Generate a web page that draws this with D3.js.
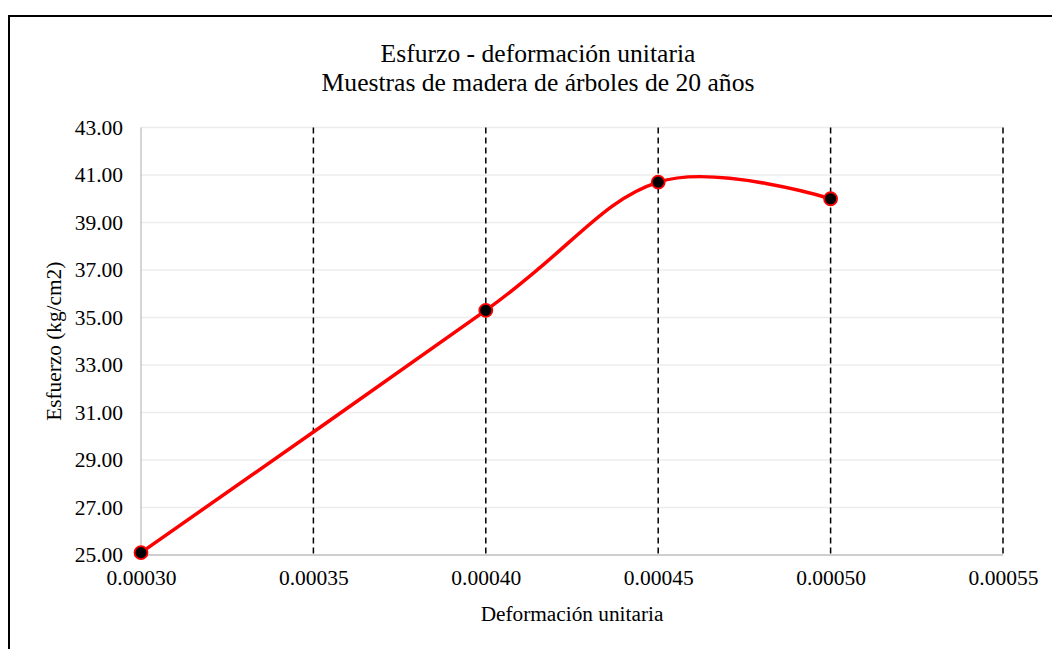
<!DOCTYPE html>
<html>
<head>
<meta charset="utf-8">
<script src="https://cdn.jsdelivr.net/npm/d3@7/dist/d3.min.js"></script>
<style>
  html, body { margin: 0; padding: 0; background: #fff; }
  svg { display: block; }
  svg text { font-family: "Liberation Serif", "Times New Roman", serif; }
</style>
</head>
<body>
<svg id="chart" width="1052" height="649"></svg>
<script>
// Stress vs. unit strain, wood samples from 20-year-old trees
const strain = [0.00030, 0.00040, 0.00045, 0.00050];
const stress = [25.1, 35.3, 40.7, 40.0];
const xTicks = [0.00030, 0.00035, 0.00040, 0.00045, 0.00050, 0.00055];
const yTicks = [25, 27, 29, 31, 33, 35, 37, 39, 41, 43];
const titleLines = ["Esfurzo - deformación unitaria", "Muestras de madera de árboles de 20 años"];
const xTitle = "Deformación unitaria";
const yTitle = "Esfuerzo (kg/cm2)";

const FONT = "'Liberation Serif', 'Times New Roman', serif";
const svg = d3.select("#chart");
const W = 1052, H = 649;
const plot = { left: 141, right: 1003, top: 127.5, bottom: 555 };

// Chart frame
svg.append("rect")
  .attr("x", 9).attr("y", 16)
  .attr("width", W + 20).attr("height", H + 20)
  .attr("fill", "#fff").attr("stroke", "#000").attr("stroke-width", 2);

const x = d3.scaleLinear().domain([0.00030, 0.00055]).range([plot.left, plot.right]);
const y = d3.scaleLinear().domain([25, 43]).range([plot.bottom, plot.top]);

// Horizontal gridlines
svg.append("g")
  .selectAll("line").data(yTicks.filter(d => d !== 25)).join("line")
  .attr("x1", plot.left).attr("x2", plot.right)
  .attr("y1", d => y(d)).attr("y2", d => y(d))
  .attr("stroke", "#ececec").attr("stroke-width", 1.3);

// Vertical dashed gridlines
svg.append("g")
  .selectAll("line").data(xTicks.filter(d => d !== 0.00030)).join("line")
  .attr("x1", d => x(d)).attr("x2", d => x(d))
  .attr("y1", plot.top).attr("y2", plot.bottom)
  .attr("stroke", "#000").attr("stroke-width", 1.5)
  .attr("stroke-dasharray", "6,4");

// Axis lines
svg.append("line")
  .attr("x1", plot.left).attr("x2", plot.left)
  .attr("y1", plot.top).attr("y2", plot.bottom)
  .attr("stroke", "#bfbfbf").attr("stroke-width", 1.3);
svg.append("line")
  .attr("x1", plot.left).attr("x2", plot.right)
  .attr("y1", plot.bottom).attr("y2", plot.bottom)
  .attr("stroke", "#bfbfbf").attr("stroke-width", 1.3);

// Axis tick labels via d3 axes (lines hidden)
const yAxis = svg.append("g")
  .attr("transform", `translate(${plot.left},0)`)
  .call(d3.axisLeft(y).tickValues(yTicks).tickFormat(d3.format(".2f")).tickSize(0).tickPadding(18));
const xAxis = svg.append("g")
  .attr("transform", `translate(0,${plot.bottom})`)
  .call(d3.axisBottom(x).tickValues(xTicks).tickFormat(d3.format(".5f")).tickSize(0).tickPadding(15));
[yAxis, xAxis].forEach(g => {
  g.attr("font-family", FONT).attr("font-size", 21.5);
  g.select(".domain").remove();
  g.selectAll("text")
    .attr("font-family", FONT)
    .attr("font-size", 21.5).attr("fill", "#000");
});

// Titles
const title = svg.append("text")
  .attr("text-anchor", "middle").attr("font-family", FONT)
  .attr("font-size", 25.6).attr("fill", "#000");
titleLines.forEach((t, i) => {
  title.append("tspan").attr("x", 538).attr("y", 62 + i * 28.5).text(t);
});

svg.append("text")
  .attr("x", (plot.left + plot.right) / 2).attr("y", 621)
  .attr("text-anchor", "middle").attr("font-family", FONT)
  .attr("font-size", 21.3).attr("fill", "#000")
  .text(xTitle);

svg.append("text")
  .attr("transform", `translate(61,${(plot.top + plot.bottom) / 2}) rotate(-90)`)
  .attr("text-anchor", "middle").attr("font-family", FONT)
  .attr("font-size", 21.3).attr("fill", "#000")
  .text(yTitle);

// Smoothed series line
const pts = strain.map((s, i) => [s, stress[i]]);
const line = d3.line()
  .x(d => x(d[0])).y(d => y(d[1]))
  .curve(d3.curveCatmullRom.alpha(0));
svg.append("path")
  .datum(pts)
  .attr("d", line)
  .attr("fill", "none").attr("stroke", "#ff0000").attr("stroke-width", 3.5);

// Markers
svg.append("g")
  .selectAll("circle").data(pts).join("circle")
  .attr("cx", d => x(d[0])).attr("cy", d => y(d[1]))
  .attr("r", 6.5)
  .attr("fill", "#000").attr("stroke", "#ff0000").attr("stroke-width", 1.8);
</script>
</body>
</html>
